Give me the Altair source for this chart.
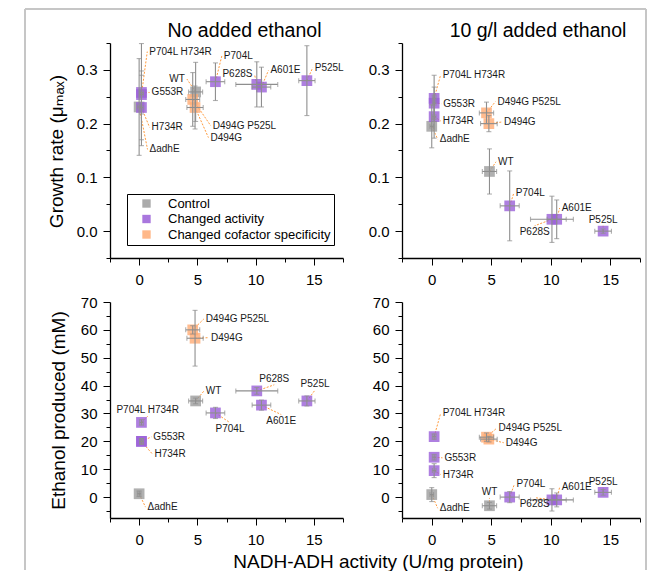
import altair as alt
import pandas as pd

FONT = "Arial, Liberation Sans, DejaVu Sans, sans-serif"

strains = ["ΔadhE", "WT", "G553R", "H734R", "P704L H734R", "P704L", "P628S",
           "A601E", "P525L", "D494G", "D494G P525L"]
groups = ["Control", "Control", "Changed activity", "Changed activity",
          "Changed activity", "Changed activity", "Changed activity",
          "Changed activity", "Changed activity",
          "Changed cofactor specificity", "Changed cofactor specificity"]
group_names = ["Control", "Changed activity", "Changed cofactor specificity"]
group_colors = ["#9c9c9c", "#9a5fd8", "#ffab74"]

activity = [0.0, 4.85, 0.2, 0.2, 0.2, 6.55, 10.1, 10.5, 14.4, 4.8, 4.6]
activity_err = [0.15, 0.6, 0.15, 0.15, 0.15, 0.8, 1.8, 0.8, 0.7, 0.7, 0.6]

growth_none = [0.231, 0.259, 0.258, 0.230, 0.254, 0.278, 0.273, 0.268, 0.280, 0.230, 0.245]
growth_none_err = [0.09, 0.055, 0.04, 0.06, 0.095, 0.035, 0.042, 0.037, 0.065, 0.04, 0.05]
growth_eth = [0.195, 0.111, 0.238, 0.213, 0.247, 0.047, 0.022, 0.022, 0.0, 0.200, 0.220]
growth_eth_err = [0.04, 0.042, 0.03, 0.04, 0.043, 0.065, 0.043, 0.036, 0.004, 0.015, 0.02]
ethanol_none = [1.2, 34.5, 20.0, 20.0, 26.8, 30.2, 38.1, 33.0, 34.5, 57.0, 60.0]
ethanol_none_err = [1.0, 1.0, 1.0, 1.0, 1.0, 2.0, 1.2, 1.8, 1.8, 10.0, 1.5]
ethanol_eth = [0.9, -3.1, 14.3, 9.5, 21.7, 0.0, -1.0, -1.0, 1.7, 20.8, 21.5]
ethanol_eth_err = [2.5, 1.2, 1.0, 2.5, 1.0, 2.0, 4.0, 2.5, 1.0, 1.0, 1.5]

# label anchors (data units) and side: r=right of anchor, l=left, a=above, b=below
gn_label_x = [0.72, 4.1, 0.9, 0.9, 0.7, 7.1, 9.9, 11.1, 14.9, 5.95, 6.15]
gn_label_y = [0.152, 0.283, 0.258, 0.193, 0.334, 0.326, 0.292, 0.299, 0.304, 0.174, 0.196]
gn_label_pos = ["r", "l", "r", "r", "r", "r", "l", "r", "r", "r", "r"]

ge_label_x = [0.5, 5.4, 0.8, 0.75, 0.75, 6.9, 8.65, 10.75, 14.4, 5.9, 5.35]
ge_label_y = [0.171, 0.129, 0.237, 0.205, 0.291, 0.071, 0.010, 0.043, 0.010, 0.203, 0.241]
ge_label_pos = ["r", "r", "r", "r", "r", "r", "b", "r", "a", "r", "r"]

en_label_x = [0.55, 5.55, 1.05, 1.15, 0.73, 7.8, 11.6, 12.2, 15.1, 6.0, 5.55]
en_label_y = [-3.6, 38.0, 21.6, 15.4, 29.0, 26.7, 40.3, 29.6, 38.4, 57.2, 63.9]
en_label_pos = ["r", "r", "r", "r", "a", "b", "a", "b", "a", "r", "r"]

ee_label_x = [0.5, 4.85, 0.9, 0.75, 0.75, 6.95, 8.65, 10.75, 14.4, 6.05, 5.45]
ee_label_y = [-4.0, -0.3, 14.1, 8.1, 30.1, 4.7, -0.2, 3.6, 3.4, 19.5, 24.7]
ee_label_pos = ["r", "a", "r", "r", "r", "r", "b", "r", "a", "r", "r"]

x_ticks = [-2.5, 0, 2.5, 5, 7.5, 10, 12.5, 15, 17.5]
growth_ticks = [-0.05, 0.0, 0.05, 0.1, 0.15, 0.2, 0.25, 0.3, 0.35]
ethanol_ticks = [-5, 0, 5, 10, 15, 20, 25, 30, 35, 40, 45, 50, 55, 60, 65, 70]

AXIS_COMMON = dict(grid=False, domainColor="black", domainWidth=1.3,
                   tickColor="black", tickWidth=1, labelFont=FONT,
                   labelFontSize=15, labelColor="black", titleFont=FONT,
                   titleFontSize=19, titleFontWeight="normal", titleColor="black")


def x_axis(title=None):
    kw = dict(AXIS_COMMON)
    kw.update(values=x_ticks,
              labelExpr="datum.value % 5 == 0 ? datum.label : ''",
              tickSize={"condition": {"test": "datum.value % 5 == 0", "value": 7}, "value": 4},
              labelPadding=7)
    if title:
        kw.update(title=title, titleX=268, titleY=43, titleAlign="center",
                  titleBaseline="middle", titleAnchor="middle")
    else:
        kw.update(title=None)
    return alt.Axis(**kw)


def y_axis(kind, title):
    kw = dict(AXIS_COMMON)
    if kind == "growth":
        kw.update(values=growth_ticks,
                  labelExpr="abs(round(datum.value*100)) % 10 == 0 ? format(datum.value, '.1f') : ''",
                  tickSize={"condition": {"test": "abs(round(datum.value*100)) % 10 == 0", "value": 7}, "value": 4})
    else:
        kw.update(values=ethanol_ticks,
                  labelExpr="datum.value % 10 == 0 ? datum.label : ''",
                  tickSize={"condition": {"test": "datum.value % 10 == 0", "value": 7}, "value": 4})
    kw.update(labelPadding=6)
    if title:
        kw.update(title=title, titleAngle=270, titleX=-48 if kind == "growth" else -46,
                  titleY=108, titleAlign="center", titleBaseline="alphabetic")
    else:
        kw.update(title=None)
    return alt.Axis(**kw)


def panel(yv, ye, lx, ly, lpos, kind, width, height, ytitle=None, xtitle=None,
          title=None, title_dx=18, frame=False):
    df = pd.DataFrame({"strain": strains, "group": groups, "x": activity,
                       "xe": activity_err, "y": yv, "ye": ye, "lx": lx,
                       "ly": ly, "pos": lpos})
    ydom = [-0.05, 0.35] if kind == "growth" else [-7.5, 70]
    xs = alt.Scale(domain=[-2.5, 17.5], nice=False, zero=False)
    ys = alt.Scale(domain=ydom, nice=False, zero=False)
    xa = x_axis(xtitle)
    ya = y_axis(kind, ytitle)
    base = alt.Chart(df).transform_calculate(
        ylo="datum.y - datum.ye", yhi="datum.y + datum.ye",
        xlo="datum.x - datum.xe", xhi="datum.x + datum.xe")
    X = alt.X("x:Q", scale=xs, axis=xa)
    Y = alt.Y("y:Q", scale=ys, axis=ya)

    leaders = base.mark_rule(color="#ff9a3c", strokeWidth=1, strokeDash=[2, 1.5]).encode(
        x=X, y=Y, x2="lx:Q", y2="ly:Q")
    squares = base.mark_square(size=115, opacity=0.8).encode(
        x=X, y=Y,
        color=alt.Color("group:N",
                        scale=alt.Scale(domain=group_names, range=group_colors),
                        legend=alt.Legend(title=None, orient="none", legendX=17, legendY=151,
                                          direction="vertical", symbolType="square",
                                          symbolSize=70, symbolOpacity=0.85,
                                          symbolStrokeWidth=0, labelFont=FONT,
                                          labelFontSize=13, labelColor="black",
                                          labelLimit=0,
                                          strokeColor="black", fillColor="white",
                                          padding=3, symbolOffset=10, labelOffset=15,
                                          rowPadding=1.5)))
    ebar_col = "#8e8e8e"
    yerr = base.mark_rule(color=ebar_col, strokeWidth=1.1).encode(
        x=X, y=alt.Y("ylo:Q", scale=ys, axis=ya), y2="yhi:Q")
    xerr = base.mark_rule(color=ebar_col, strokeWidth=1.1).encode(
        y=Y, x=alt.X("xlo:Q", scale=xs, axis=xa), x2="xhi:Q")
    ycaps = base.transform_fold(["ylo", "yhi"], as_=["k", "yc"]).mark_tick(
        orient="horizontal", color=ebar_col, size=5, thickness=1.1).encode(
        x=X, y=alt.Y("yc:Q", scale=ys, axis=ya))
    xcaps = base.transform_fold(["xlo", "xhi"], as_=["k", "xc"]).mark_tick(
        orient="vertical", color=ebar_col, size=5, thickness=1.1).encode(
        y=Y, x=alt.X("xc:Q", scale=xs, axis=xa))

    specs = {"r": ("left", "middle", 2, 0), "l": ("right", "middle", -2, 0),
             "a": ("center", "bottom", 0, -1), "b": ("center", "top", 0, 1)}
    texts = []
    for code, (al, bl, dx, dy) in specs.items():
        texts.append(base.transform_filter(f"datum.pos == '{code}'").mark_text(
            align=al, baseline=bl, dx=dx, dy=dy, font=FONT, fontSize=10,
            color="#1a1a1a").encode(
            x=alt.X("lx:Q", scale=xs, axis=xa), y=alt.Y("ly:Q", scale=ys, axis=ya),
            text="strain:N"))

    layers = [leaders, squares, yerr, xerr, ycaps, xcaps] + texts
    if frame:
        # light grey figure frame (drawn from the lower-left panel, in its pixel space)
        one = pd.DataFrame({"k": [0]})
        fc = "#c6c6c6"
        layers.append(alt.Chart(one).mark_rule(color=fc, strokeWidth=2).encode(
            x=alt.value(-85), y=alt.value(-293), y2=alt.value(268)))
        layers.append(alt.Chart(one).mark_rule(color=fc, strokeWidth=2).encode(
            x=alt.value(-85), x2=alt.value(536), y=alt.value(-293)))
        layers.append(alt.Chart(one).mark_rule(color=fc, strokeWidth=2).encode(
            x=alt.value(536), y=alt.value(-293), y2=alt.value(268)))
    ch = alt.layer(*layers).properties(width=width, height=height)
    if title:
        ch = ch.properties(title=alt.TitleParams(title, fontSize=19.5, font=FONT,
                                                 fontWeight="normal", color="black",
                                                 anchor="middle", frame="group",
                                                 dx=title_dx, offset=-14,
                                                 baseline="alphabetic"))
    return ch


tl = panel(growth_none, growth_none_err, gn_label_x, gn_label_y, gn_label_pos,
           "growth", 233, 215, ytitle="Growth rate (μₘₐₓ)", title="No added ethanol",
           title_dx=18)
tr = panel(growth_eth, growth_eth_err, ge_label_x, ge_label_y, ge_label_pos,
           "growth", 238, 215, title="10 g/l added ethanol", title_dx=17)
bl = panel(ethanol_none, ethanol_none_err, en_label_x, en_label_y, en_label_pos,
           "ethanol", 233, 216, ytitle="Ethanol produced (mM)",
           xtitle="NADH-ADH activity (U/mg protein)", frame=True)
br = panel(ethanol_eth, ethanol_eth_err, ee_label_x, ee_label_y, ee_label_pos,
           "ethanol", 238, 216)

chart = alt.concat(tl, tr, bl, br, columns=2,
                   spacing={"row": 44, "column": 59}, bounds="flush").properties(
    padding={"left": 16, "top": 0, "right": 0, "bottom": 0}
).configure_view(stroke=None)

chart.save("out.html", embed_options={"renderer": "svg", "actions": False})
